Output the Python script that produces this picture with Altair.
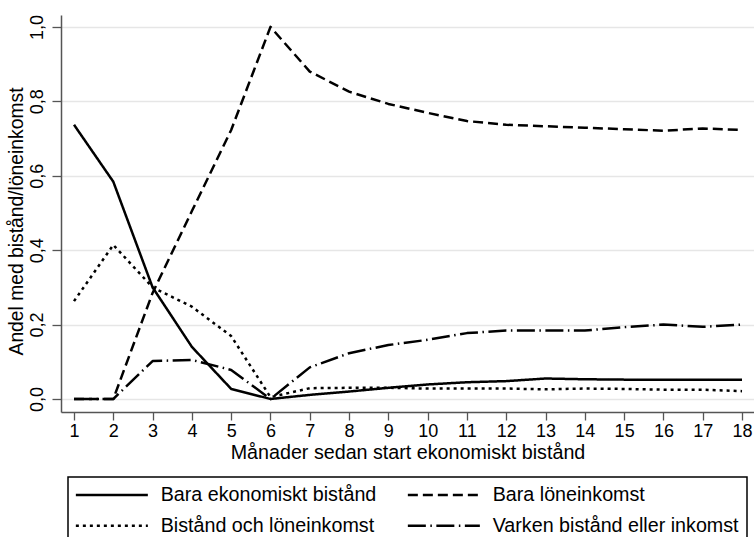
import altair as alt
import pandas as pd

months = list(range(1, 19))
series_names = [
    "Bara ekonomiskt bistånd",
    "Bara löneinkomst",
    "Bistånd och löneinkomst",
    "Varken bistånd eller inkomst",
]
bara_ekonomiskt = [0.737, 0.584, 0.30, 0.14, 0.027, 0.0, 0.011, 0.02, 0.03, 0.039,
                   0.045, 0.048, 0.055, 0.053, 0.052, 0.052, 0.052, 0.052]
bara_lone = [0.0, 0.0, 0.285, 0.505, 0.723, 1.0, 0.88, 0.826, 0.793, 0.769,
             0.747, 0.737, 0.733, 0.729, 0.725, 0.721, 0.727, 0.723]
bistand_och_lone = [0.263, 0.414, 0.30, 0.248, 0.169, 0.005, 0.029, 0.03, 0.03, 0.028,
                    0.028, 0.028, 0.026, 0.028, 0.027, 0.025, 0.025, 0.021]
varken = [0.0, 0.0, 0.102, 0.105, 0.078, 0.0, 0.085, 0.123, 0.145, 0.159,
          0.177, 0.184, 0.184, 0.184, 0.193, 0.2, 0.194, 0.2]
y_ticks = [0.0, 0.2, 0.4, 0.6, 0.8, 1.0]

rows = []
for name, vals in zip(series_names, [bara_ekonomiskt, bara_lone, bistand_och_lone, varken]):
    for m, v in zip(months, vals):
        rows.append({"month": m, "value": v, "serie": name})
df = pd.DataFrame(rows)

dash_range = [[1, 0], [10, 5], [3, 4], [18, 4.5, 1.5, 4.5]]

FONT = "Liberation Sans"

chart = alt.Chart(df).mark_line(strokeWidth=2.5, color="black", strokeCap="butt", strokeJoin="round").encode(
    x=alt.X("month:Q",
            scale=alt.Scale(domain=[0.669, 18.305], nice=False, zero=False),
            axis=alt.Axis(values=months, format="d", grid=False,
                          title="Månader sedan start ekonomiskt bistånd",
                          tickSize=8, labelPadding=2, titlePadding=2,
                          labelFontSize=18, titleFontSize=19.7,
                          domainColor="#555555", tickColor="#555555",
                          domainWidth=1.5, tickWidth=1.3,
                          labelColor="black", titleColor="black",
                          titleFontWeight="normal", labelFlush=False)),
    y=alt.Y("value:Q",
            scale=alt.Scale(domain=[-0.035, 1.032], nice=False, zero=False),
            axis=alt.Axis(values=y_ticks,
                          labelExpr="replace(format(datum.value, '.1f'), '.', ',')",
                          title="Andel med bistånd/löneinkomst",
                          labelAngle=270, labelAlign="center", labelBaseline="bottom",
                          tickSize=9, labelPadding=6,
                          labelFontSize=18, titleFontSize=19.3,
                          titleX=-35, titleY=206, titleAngle=270,
                          titleAlign="center", titleBaseline="bottom",
                          grid=True, gridColor="#e6e6e6", gridWidth=1.5,
                          domainColor="#555555", tickColor="#555555",
                          domainWidth=1.5, tickWidth=1.3,
                          labelColor="black", titleColor="black",
                          titleFontWeight="normal", labelFlush=False)),
    strokeDash=alt.StrokeDash("serie:N",
                              scale=alt.Scale(domain=series_names, range=dash_range),
                              legend=alt.Legend(title=None, orient="none",
                                                legendX=7, legendY=462,
                                                columns=2, columnPadding=25,
                                                rowPadding=10,
                                                symbolType="M-2,0H12.4",
                                                symbolSize=100,
                                                symbolStrokeWidth=2.5,
                                                symbolStrokeColor="black",
                                                symbolFillColor="transparent",
                                                labelOffset=65, labelFontSize=19.7,
                                                labelColor="black", labelLimit=0,
                                                padding=8, strokeColor="black",
                                                direction="horizontal")),
    order="month:Q",
).properties(
    width=693,
    height=397,
    autosize=alt.AutoSizeParams(type="none"),
    padding={"left": 61, "top": 15, "right": 0, "bottom": 125},
).configure(font=FONT).configure_view(strokeWidth=0).configure_legend(strokeWidth=1.5)

chart.save("out.html", embed_options={"renderer": "svg", "actions": False})
